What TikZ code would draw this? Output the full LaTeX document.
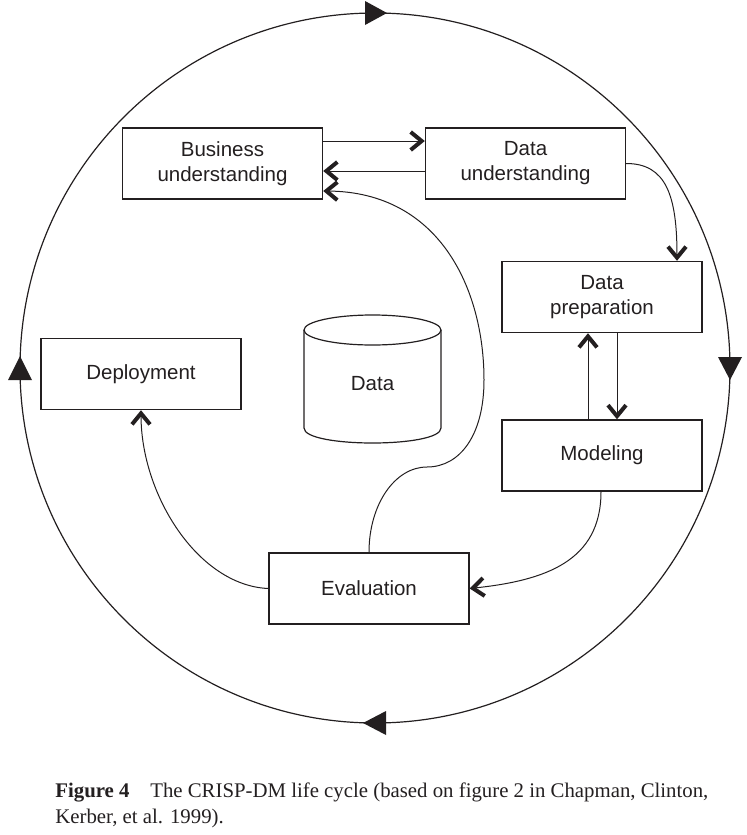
\documentclass[tikz,border=0pt]{standalone}
\usepackage{fontspec}
\setmainfont{Liberation Serif}
\setsansfont{Liberation Sans}
\usetikzlibrary{arrows.meta,calc}
\definecolor{ink}{RGB}{35,31,32}
\begin{document}
\begin{tikzpicture}[x=0.5pt,y=-0.5pt,
  phase/.style={draw=ink,line width=0.7pt,inner sep=0pt,minimum width=100pt,minimum height=35.5pt,
    align=center,text=ink,font=\sffamily\fontsize{10.25}{12.5}\selectfont},
  flow/.style={draw=ink,line width=0.5pt,-{Straight Barb[length=5.5pt,width=9pt,line width=0pt 4]}}]
\useasboundingbox (0,0) rectangle (747,835);
\begin{scope}[]% layer1
  % outer cycle
  \draw[ink,line width=0.6pt] (375,368) circle [radius=355];
  \fill[ink] (387,13) -- (365,1) -- (365,25) -- cycle;
  \fill[ink] (730,380) -- (718,357) -- (742,357) -- cycle;
  \fill[ink] (363,723) -- (386,711) -- (386,735) -- cycle;
  \fill[ink] (20,356) -- (8,380) -- (32,380) -- cycle;

  % phases
  \node[phase] (bu) at (222.5,163.5) {Business\\understanding};
  \node[phase] (du) at (525.5,163.5) {Data\\understanding};
  \node[phase] (dp) at (602,297) {Data\\preparation};
  \node[phase] (mod) at (602,455.5) {Modeling};
  \node[phase] (dep) at (141,374) {Deployment};
  \node[phase] (eval) at (369,588.5) {Evaluation};

  % data store
  \draw[ink,line width=0.6pt] (372.5,330) ellipse [x radius=68.5,y radius=15];
  \draw[ink,line width=0.6pt] (304,330) -- (304,428) .. controls (304,448) and
    (441,448) .. (441,428) -- (441,330);
  \node[text=ink,font=\sffamily\fontsize{10.25}{12.5}\selectfont] (data) at (372.5,384) {Data};

  % arrows
  \draw[flow] ($(bu.east)+(0,-22.5)$) -- ($(du.west)+(0,-22.5)$);
  \draw[flow] ($(du.west)+(0,7.5)$) -- ($(bu.east)+(0,7.5)$);
  \draw[flow] (du.east) .. controls +(40,0) and +(0,-65) .. ($(dp.north)+(75,0)$);
  \draw[flow] ($(dp.south)+(15,0)$) -- ($(mod.north)+(15,0)$);
  \draw[flow] ($(mod.north)+(-14,0)$) -- ($(dp.south)+(-14,0)$);
  \draw[flow] ($(mod.south)+(-1,0)$) .. controls +(0,70) and +(75,-8) .. (eval.east);
  \draw[flow] (eval.west) .. controls +(-70,-3) and +(0,85) .. (dep.south);
  \coordinate (kink) at (427,467);
  \coordinate (turn) at (484,380);
  \draw[flow] (eval.north) .. controls +(0,-48) and +(-32,0) .. (kink)
    .. controls +(33,0) and +(0,55) .. (turn)
    .. controls +(0,-90) and +(117,1) .. ($(bu.east)+(0,27.5)$);

  % caption
  \node[anchor=north west,inner sep=0pt,align=left,text=ink,
    font=\rmfamily\fontsize{10.4}{13}\selectfont] (caption) at (55,782)
    {\textbf{Figure 4}\quad The CRISP-DM life cycle (based on figure 2 in Chapman, Clinton,\\
     Kerber, et al. 1999).};
\end{scope}
\end{tikzpicture}
\end{document}
